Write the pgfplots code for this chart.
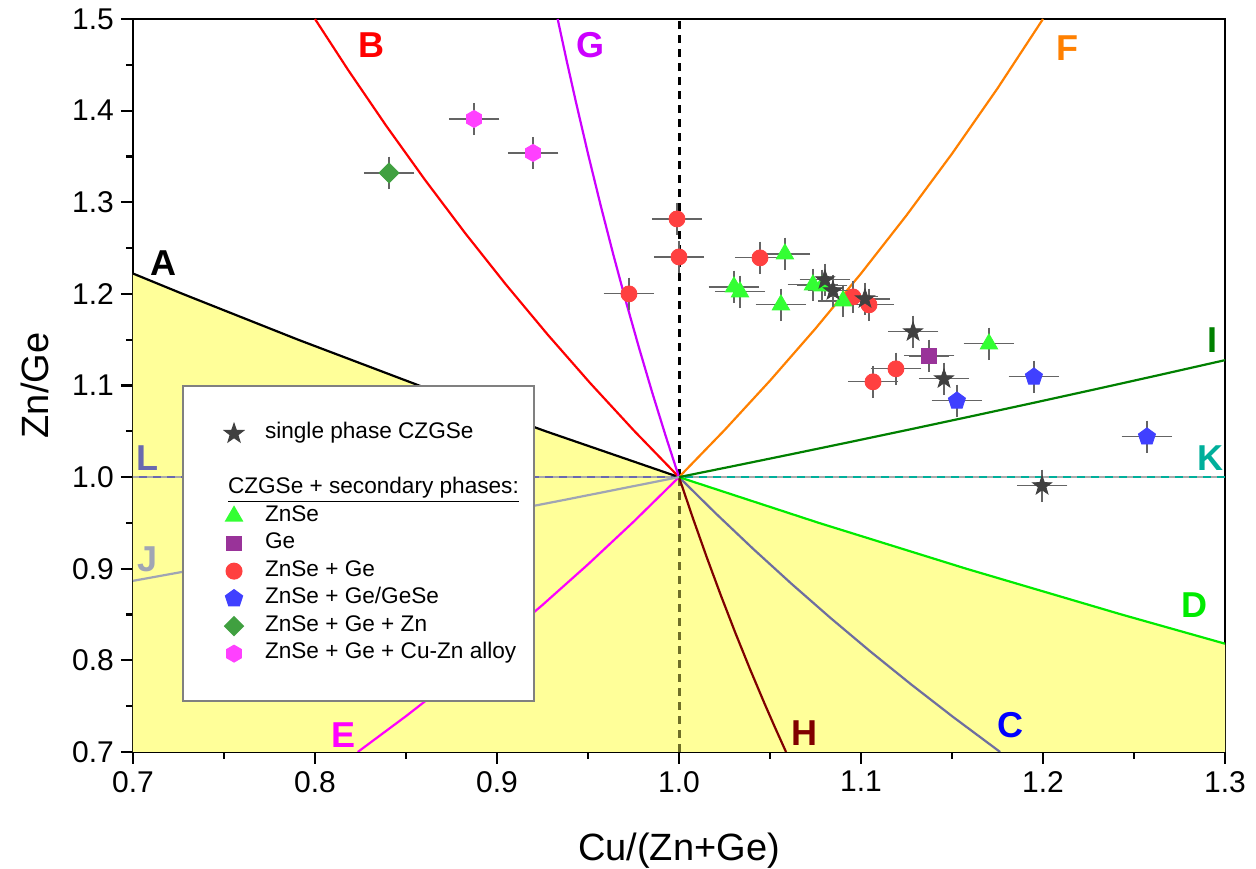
\documentclass[border=0pt]{standalone}
\usepackage{pgfplots}
\pgfplotsset{compat=1.18}
\usetikzlibrary{plotmarks}
\usepackage{fontspec}
\setmainfont{Liberation Sans}

\definecolor{fillyel}{RGB}{255,255,153}
\definecolor{cB}{RGB}{255,0,0}
\definecolor{cCline}{RGB}{110,110,160}
\definecolor{cClab}{RGB}{0,0,255}
\definecolor{cD}{RGB}{0,235,0}
\definecolor{cE}{RGB}{255,0,255}
\definecolor{cF}{RGB}{255,128,0}
\definecolor{cG}{RGB}{204,0,255}
\definecolor{cH}{RGB}{128,0,0}
\definecolor{cI}{RGB}{0,128,0}
\definecolor{cJ}{RGB}{160,165,180}
\definecolor{cK}{RGB}{0,175,155}
\definecolor{cL}{RGB}{105,105,175}
\definecolor{olive2}{RGB}{110,110,40}
\definecolor{dgray}{RGB}{170,170,170}
\definecolor{errgray}{RGB}{100,100,100}
\definecolor{mstar}{RGB}{64,64,64}
\definecolor{mtri}{RGB}{51,255,51}
\definecolor{msq}{RGB}{153,51,153}
\definecolor{mcirc}{RGB}{255,64,64}
\definecolor{mpent}{RGB}{64,64,255}
\definecolor{mdiam}{RGB}{64,160,64}
\definecolor{mhex}{RGB}{255,64,255}

\pgfdeclareplotmark{fstar}{%
  \pgfpathmoveto{\pgfpointpolar{90}{\pgfplotmarksize}}%
  \pgfpathlineto{\pgfpointpolar{126}{0.40\pgfplotmarksize}}%
  \pgfpathlineto{\pgfpointpolar{162}{\pgfplotmarksize}}%
  \pgfpathlineto{\pgfpointpolar{198}{0.40\pgfplotmarksize}}%
  \pgfpathlineto{\pgfpointpolar{234}{\pgfplotmarksize}}%
  \pgfpathlineto{\pgfpointpolar{270}{0.40\pgfplotmarksize}}%
  \pgfpathlineto{\pgfpointpolar{306}{\pgfplotmarksize}}%
  \pgfpathlineto{\pgfpointpolar{342}{0.40\pgfplotmarksize}}%
  \pgfpathlineto{\pgfpointpolar{18}{\pgfplotmarksize}}%
  \pgfpathlineto{\pgfpointpolar{54}{0.40\pgfplotmarksize}}%
  \pgfpathclose\pgfusepathqfillstroke}
\pgfdeclareplotmark{fhex}{%
  \pgfpathmoveto{\pgfpointpolar{30}{\pgfplotmarksize}}%
  \pgfpathlineto{\pgfpointpolar{90}{\pgfplotmarksize}}%
  \pgfpathlineto{\pgfpointpolar{150}{\pgfplotmarksize}}%
  \pgfpathlineto{\pgfpointpolar{210}{\pgfplotmarksize}}%
  \pgfpathlineto{\pgfpointpolar{270}{\pgfplotmarksize}}%
  \pgfpathlineto{\pgfpointpolar{330}{\pgfplotmarksize}}%
  \pgfpathclose\pgfusepathqfillstroke}
\pgfdeclareplotmark{fdiam}{%
  \pgfpathmoveto{\pgfpointpolar{90}{\pgfplotmarksize}}%
  \pgfpathlineto{\pgfpointpolar{180}{\pgfplotmarksize}}%
  \pgfpathlineto{\pgfpointpolar{270}{\pgfplotmarksize}}%
  \pgfpathlineto{\pgfpointpolar{0}{\pgfplotmarksize}}%
  \pgfpathclose\pgfusepathqfillstroke}

\begin{document}
\begin{tikzpicture}
\begin{axis}[
  width=546pt, height=366.5pt, scale only axis,
  xmin=0.7, xmax=1.3, ymin=0.7, ymax=1.5,
  xtick={0.7,0.8,0.9,1.0,1.1,1.2,1.3},
  ytick={0.7,0.8,0.9,1.0,1.1,1.2,1.3,1.4,1.5},
  minor x tick num=1, minor y tick num=1,
  tick align=outside, tick pos=left,
  major tick length=6pt, minor tick length=3.5pt,
  axis line style={line width=1.2pt},
  every tick/.style={line width=1.1pt, black},
  xticklabel style={/pgf/number format/.cd, fixed, fixed zerofill, precision=1},
  yticklabel style={/pgf/number format/.cd, fixed, fixed zerofill, precision=1},
  /pgf/number format/assume math mode=true,
  tick label style={font=\fontsize{15}{18}\selectfont},
  label style={font=\fontsize{19}{22}\selectfont},
  xlabel={Cu/(Zn+Ge)},
  ylabel={Zn/Ge},
  xlabel style={at={(axis description cs:0.5,-0.134)}, anchor=center},
  ylabel style={at={(axis description cs:-0.09,0.5)}, anchor=center},
  legend cell align=left,
  legend image code/.code={\path[draw=none,fill=none] (0pt,0pt) -- (27pt,0pt); \draw[#1] plot coordinates {(18pt,0pt)};},
  legend style={at={(rel axis cs:0.045,0.5007)}, anchor=north west,
    draw=gray, line width=0.9pt, fill=white,
    inner xsep=7.5pt, inner ysep=17pt, row sep=0pt, column sep=6.5pt,
    font=\fontsize{11.3}{13.6}\selectfont,
    nodes={inner sep=0pt, text height=9.5pt, text depth=4.25pt}},
  error bars/error bar style={line width=0.6pt, errgray},
  error bars/error mark options={line width=0.6pt, errgray, mark size=2.6pt},
  clip=true,
]
% yellow region below A and D
\addplot[fill=fillyel, draw=none, forget plot] coordinates {
 (0.7,0.7) (0.7,1.2222) (0.72727,1.2) (0.79070,1.15) (0.85714,1.1) (0.92683,1.05) (1,1)
 (1.07692,0.95) (1.15789,0.9) (1.24324,0.85) (1.3,0.8182) (1.3,0.7)} -- cycle;

% vertical x=1 line
\addplot[olive2, line width=1.5pt, dash pattern=on 4pt off 3pt, forget plot] coordinates {(1,0.7) (1,1)};
\addplot[black, line width=1.5pt, dash pattern=on 4pt off 3pt, forget plot] coordinates {(1,1) (1,1.5)};

% horizontal lines L and K
\addplot[cL, line width=1.2pt, forget plot] coordinates {(0.7,1) (1,1)};
\addplot[cK, line width=1.2pt, forget plot] coordinates {(1,1) (1.3,1)};
\addplot[dgray, line width=0.8pt, dash pattern=on 3pt off 4pt, forget plot] coordinates {(0.7,1) (1.3,1)};

% A
\addplot[black, line width=1.1pt, forget plot] coordinates {(1,1) (0.92683,1.05) (0.85714,1.1) (0.79070,1.15) (0.72727,1.2) (0.7,1.2222)};
% B
\addplot[cB, line width=1.1pt, forget plot] coordinates {(1,1) (0.97531,1.05063) (0.95122,1.10256) (0.92771,1.15584) (0.90476,1.21053) (0.88235,1.26667) (0.86047,1.32432) (0.83908,1.38356) (0.81818,1.44444) (0.8,1.5)};
% C
\addplot[cCline, line width=1.1pt, forget plot] coordinates {(1,1) (1.02020,0.96040) (1.04082,0.92157) (1.06186,0.88350) (1.08333,0.84615) (1.10526,0.80952) (1.12766,0.77358) (1.15054,0.73832) (1.17646,0.7)};
% D
\addplot[cD, line width=1.1pt, forget plot] coordinates {(1,1) (1.07692,0.95) (1.15789,0.9) (1.24324,0.85) (1.3,0.8182)};
% E
\addplot[cE, line width=1.1pt, forget plot] coordinates {(0.8235,0.7) (0.85,0.73913) (0.875,0.77778) (0.9,0.81818) (0.925,0.86047) (0.95,0.90476) (0.975,0.95122) (1,1)};
% F
\addplot[cF, line width=1.1pt, forget plot] coordinates {(1,1) (1.025,1.05128) (1.05,1.10526) (1.075,1.16216) (1.1,1.22222) (1.125,1.28571) (1.15,1.35294) (1.175,1.42424) (1.2,1.5)};
% G
\addplot[cG, line width=1.1pt, forget plot] coordinates {(1,1) (0.99256,1.04569) (0.98522,1.09278) (0.97800,1.14136) (0.97087,1.19149) (0.96386,1.24324) (0.95694,1.29670) (0.95012,1.35196) (0.94340,1.40909) (0.93835,1.45383) (0.93333,1.5)};
% H
\addplot[cH, line width=1.1pt, forget plot] coordinates {(1,1) (1.00756,0.95567) (1.01523,0.91262) (1.02302,0.87081) (1.03093,0.83019) (1.03896,0.79070) (1.04712,0.75229) (1.05263,0.72727) (1.05882,0.7)};
% I
\addplot[cI, line width=1.1pt, forget plot] coordinates {(1,1) (1.03145,1.01266) (1.06329,1.02564) (1.09554,1.03896) (1.12821,1.05263) (1.16129,1.06667) (1.19481,1.08108) (1.22876,1.09589) (1.26316,1.11111) (1.3,1.12765)};
% J
\addplot[cJ, line width=1.1pt, forget plot] coordinates {(1,1) (0.93827,0.97561) (0.87805,0.95238) (0.81928,0.93023) (0.76190,0.90909) (0.7,0.8868)};

% line labels
\begin{scope}[every node/.style={font=\bfseries\fontsize{18}{20}\selectfont, anchor=center}]
\node[black] at (axis cs:0.7165,1.2338) {A};
\node[cB] at (axis cs:0.8313,1.4716) {B};
\node[cG] at (axis cs:0.9511,1.4716) {G};
\node[cF] at (axis cs:1.2137,1.4684) {F};
\node[cI] at (axis cs:1.2929,1.1498) {I};
\node[cK] at (axis cs:1.2918,1.021) {K};
\node[cD] at (axis cs:1.2835,0.8607) {D};
\node[cClab] at (axis cs:1.1819,0.7298) {C};
\node[cH] at (axis cs:1.0692,0.721) {H};
\node[cE] at (axis cs:0.8159,0.7188) {E};
\node[cJ] at (axis cs:0.7082,0.9098) {J};
\node[cL] at (axis cs:0.7082,1.021) {L};
\end{scope}

% data points
\addplot[only marks, mark=*, mark size=4pt, mark options={fill=mcirc, draw=mcirc}, forget plot,
  error bars/.cd, x dir=both, x fixed=0.011, y dir=both, y fixed=0.012] coordinates {
 (0.9989,1.2818) (1.0,1.2403) (0.9725,1.2) (1.0445,1.2393) (1.0956,1.1967) (1.1044,1.188) (1.1066,1.104) (1.1192,1.1182)};
\addplot[only marks, mark=triangle*, mark size=5pt, mark options={fill=mtri, draw=mtri}, forget plot,
  error bars/.cd, x dir=both, x fixed=0.011, y dir=both, y fixed=0.012] coordinates {
 (1.0582,1.2436) (1.0302,1.2076) (1.0335,1.2022) (1.0560,1.188) (1.0736,1.2098) (1.0786,1.2087) (1.0901,1.1923) (1.1703,1.1454)};
\addplot[only marks, mark=fstar, mark size=5pt, mark options={fill=mstar, draw=mstar}, forget plot,
  error bars/.cd, x dir=both, x fixed=0.011, y dir=both, y fixed=0.012] coordinates {
 (1.0802,1.2153) (1.0846,1.2033) (1.1022,1.1945) (1.1286,1.1585) (1.1456,1.1072) (1.1995,0.9905)};
\addplot[only marks, mark=square*, mark size=3.6pt, mark options={fill=msq, draw=msq}, forget plot,
  error bars/.cd, x dir=both, x fixed=0.011, y dir=both, y fixed=0.012] coordinates {
 (1.1374,1.1323)};
\addplot[only marks, mark=pentagon*, mark size=4.5pt, mark options={fill=mpent, draw=mpent}, forget plot,
  error bars/.cd, x dir=both, x fixed=0.011, y dir=both, y fixed=0.012] coordinates {
 (1.1527,1.0832) (1.195,1.1094) (1.2571,1.044)};
\addplot[only marks, mark=fdiam, mark size=5pt, mark options={fill=mdiam, draw=mdiam}, forget plot,
  error bars/.cd, x dir=both, x fixed=0.011, y dir=both, y fixed=0.012] coordinates {
 (0.8407,1.332)};
\addplot[only marks, mark=fhex, mark size=4.3pt, mark options={fill=mhex, draw=mhex}, forget plot,
  error bars/.cd, x dir=both, x fixed=0.011, y dir=both, y fixed=0.012] coordinates {
 (0.8874,1.3909) (0.9198,1.3538)};

% legend
\addlegendimage{mark=fstar, mark size=4.5pt, mark options={fill=mstar, draw=mstar}}
\addlegendentry{single phase CZGSe}
\addlegendimage{empty legend}
\addlegendentry{\strut}
\addlegendimage{empty legend}
\addlegendentry{\hspace*{-18.5pt}\underline{CZGSe + secondary phases:}}
\addlegendimage{mark=triangle*, mark size=4.5pt, mark options={fill=mtri, draw=mtri}}
\addlegendentry{ZnSe}
\addlegendimage{mark=square*, mark size=3.4pt, mark options={fill=msq, draw=msq}}
\addlegendentry{Ge}
\addlegendimage{mark=*, mark size=3.8pt, mark options={fill=mcirc, draw=mcirc}}
\addlegendentry{ZnSe + Ge}
\addlegendimage{mark=pentagon*, mark size=4.3pt, mark options={fill=mpent, draw=mpent}}
\addlegendentry{ZnSe + Ge/GeSe}
\addlegendimage{mark=fdiam, mark size=4.5pt, mark options={fill=mdiam, draw=mdiam}}
\addlegendentry{ZnSe + Ge + Zn}
\addlegendimage{mark=fhex, mark size=4pt, mark options={fill=mhex, draw=mhex}}
\addlegendentry{ZnSe + Ge + Cu-Zn alloy}
\end{axis}
\pgfresetboundingbox
\useasboundingbox ([xshift=-66.5pt,yshift=-58.5pt]current axis.south west) rectangle ([xshift=15.5pt,yshift=9.5pt]current axis.north east);
\end{tikzpicture}
\end{document}
